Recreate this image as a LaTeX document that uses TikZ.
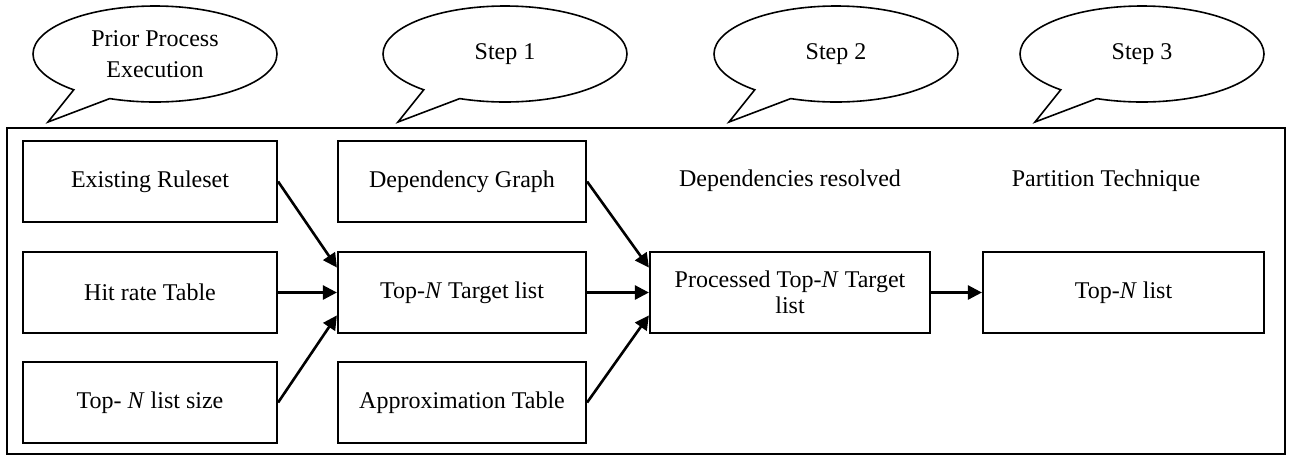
\documentclass[tikz,border=0pt]{standalone}
\usepackage{fontspec}
\setmainfont{Liberation Serif}
\usetikzlibrary{arrows.meta,shapes.callouts,calc}

\begin{document}
\begin{tikzpicture}[x=0.5pt, y=-0.5pt,
  font=\fontsize{12}{13}\selectfont,
  box/.style={draw, line width=1.1pt, minimum height=40.5pt, align=center, inner sep=2pt},
  bubble/.style={ellipse callout, draw, line width=0.8pt, minimum width=122pt,
    minimum height=48pt, align=center, inner sep=0pt, callout pointer arc=20},
  flow/.style={-{Triangle[length=7pt,width=7pt]}, line width=1.3pt}]
  \useasboundingbox (0,0) rectangle (1290,457);

  % Outer frame
  \draw[line width=0.6pt] (7,128) rectangle (1285,454);

  % Callouts
  \coordinate (tip0) at (48,122);
  \coordinate (tip1) at (398,122);
  \coordinate (tip2) at (729,122);
  \coordinate (tip3) at (1035,122);
  \node[bubble, callout absolute pointer={(tip0)}, font=\fontsize{12}{15.5}\selectfont] (prior) at (155,54) {Prior Process\\Execution};
  \node[bubble, callout absolute pointer={(tip1)}] (step1) at (505,54) {Step 1};
  \node[bubble, callout absolute pointer={(tip2)}] (step2) at (836,54) {Step 2};
  \node[bubble, callout absolute pointer={(tip3)}] (step3) at (1142,54) {Step 3};

  % Boxes
  \node[box, minimum width=127pt] (ex) at (150,181.5) {Existing Ruleset};
  \node[box, minimum width=127pt] (hr) at (150,292.5) {Hit rate Table};
  \node[box, minimum width=127pt] (ls) at (150,402.5) {Top- \textit{N} list size};
  \node[box, minimum width=124pt] (dg) at (462,181.5) {Dependency Graph};
  \node[box, minimum width=124pt] (tn) at (462,292.5) {Top-\textit{N} Target list};
  \node[box, minimum width=124pt] (ap) at (462,402.5) {Approximation Table};
  \node[box, minimum width=140pt] (pr) at (790,292.5) {Processed Top-\textit{N} Target\\list};
  \node[box, minimum width=140.5pt] (tl) at (1123.5,292.5) {Top-\textit{N} list};

  % Labels
  \node (dr) at (790,181) {Dependencies resolved};
  \node (pt) at (1106,181) {Partition Technique};

  % Arrows
  \draw[flow] (ex.east) -- ($(tn.west)!0.6!(tn.north west)$);
  \draw[flow] (hr.east) -- (tn.west);
  \draw[flow] (ls.east) -- ($(tn.west)!0.55!(tn.south west)$);
  \draw[flow] (dg.east) -- ($(pr.west)!0.6!(pr.north west)$);
  \draw[flow] (tn.east) -- (pr.west);
  \draw[flow] (ap.east) -- ($(pr.west)!0.55!(pr.south west)$);
  \draw[flow] (pr.east) -- (tl.west);
\end{tikzpicture}
\end{document}
